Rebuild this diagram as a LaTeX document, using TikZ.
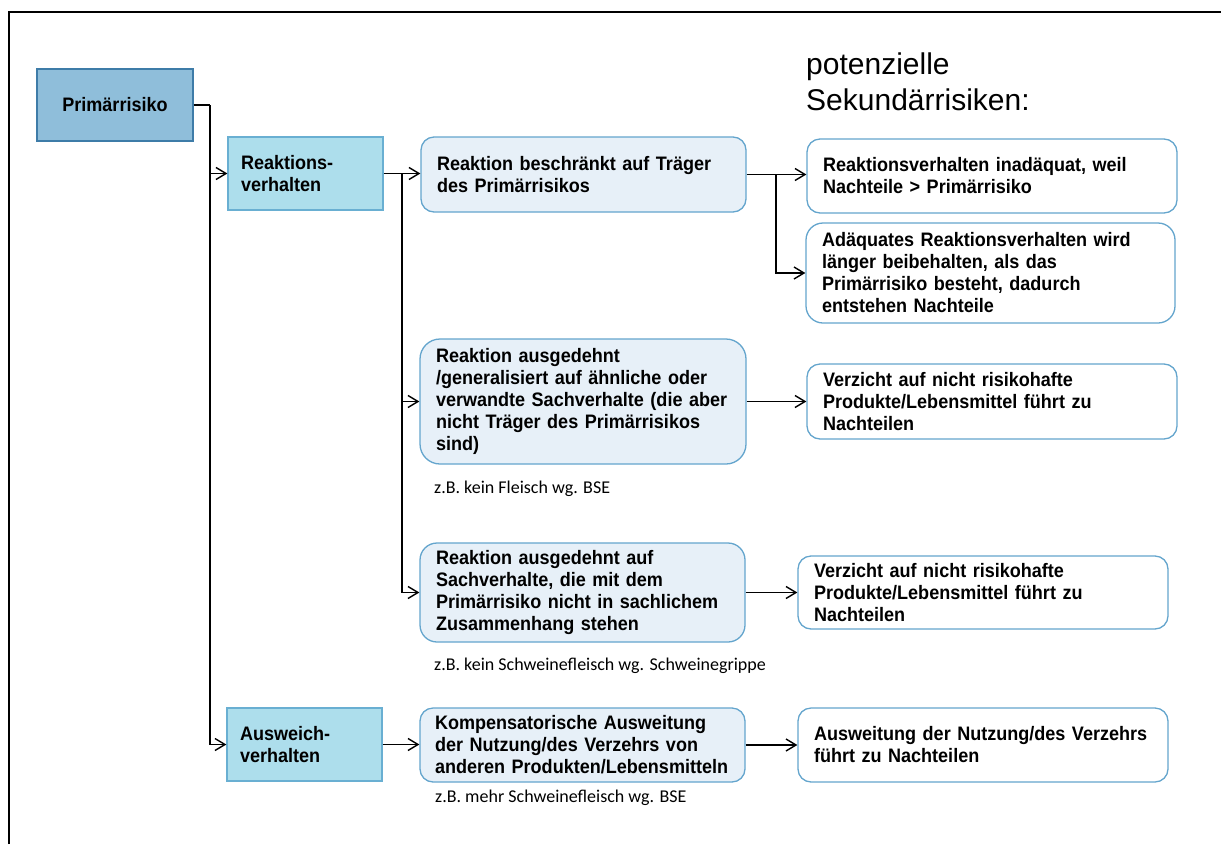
\documentclass[tikz,border=0pt]{standalone}
\usepackage{fontspec}
\setmainfont{Liberation Sans}
\newfontfamily\boxfont[FakeStretch=0.925]{Liberation Sans}
\newfontfamily\notefont{Carlito}
\usetikzlibrary{arrows.meta}
\newcommand\nohyphens{\hyphenpenalty=10000\relax\exhyphenpenalty=10000\relax}

\definecolor{primfill}{RGB}{143,190,218}
\definecolor{primline}{RGB}{62,124,168}
\definecolor{behfill}{RGB}{173,222,236}
\definecolor{behline}{RGB}{105,175,210}
\definecolor{reactfill}{RGB}{231,240,248}
\definecolor{reactline}{RGB}{100,165,205}

\tikzset{
  boxtext/.style={font=\boxfont\bfseries\fontsize{19.5}{22}\selectfont\nohyphens,
    align=left, inner ysep=0pt, text=black},
  primbox/.style={boxtext, draw=primline, fill=primfill, line width=1.3pt, align=center},
  behbox/.style={boxtext, draw=behline, fill=behfill, line width=1.3pt},
  reactbox/.style={boxtext, draw=reactline, fill=reactfill, line width=1.3pt},
  riskbox/.style={boxtext, draw=reactline, fill=white, line width=1.3pt},
  conn/.style={draw=black, line width=1.4pt},
  arr/.style={conn, -{Straight Barb[length=10pt,width=12pt]}},
  note/.style={font=\notefont\fontsize{18}{21}\selectfont, anchor=base west, inner sep=0pt},
  heading/.style={font=\fontsize{30}{36}\selectfont, anchor=base west, inner sep=0pt}
}

\begin{document}
\begin{tikzpicture}[x=1pt, y=-1pt]
\useasboundingbox (0,0) rectangle (1221,844);

% frame
\coordinate (fbl) at (9,844);
\coordinate (ftl) at (9,12);
\coordinate (ftr) at (1221,12);
\draw[line width=2pt] (fbl) -- (ftl) -- (ftr);

% heading
\node[heading] (head1) at (806,74) {potenzielle};
\node[heading] (head2) at (806,110) {Sekundärrisiken:};

% left column
\node[primbox, text width=140pt, inner xsep=8pt, minimum height=72pt] (prim) at (115,105) {Primärrisiko};
\node[behbox, text width=129pt, inner xsep=13pt, minimum height=73pt] (reak) at (305.5,173.5) {Reaktions-\\verhalten};
\node[behbox, text width=129pt, inner xsep=13pt, minimum height=73pt] (ausw) at (304.5,744.5) {Ausweich-\\verhalten};

% middle column
\node[reactbox, rounded corners=13pt, text width=293pt, inner xsep=16pt, minimum height=75pt] (b2) at (583.5,174.5)
  {Reaktion beschränkt auf Träger\\des Primärrisikos};
\node[reactbox, rounded corners=20pt, text width=294pt, inner xsep=16pt, minimum height=125pt] (b3) at (583,401.5)
  {Reaktion ausgedehnt\\/generalisiert auf ähnliche oder\\verwandte Sachverhalte (die aber\\nicht Träger des Primärrisikos\\sind)};
\node[reactbox, rounded corners=17pt, text width=293pt, inner xsep=16pt, minimum height=99pt] (b4) at (582.5,592.5)
  {Reaktion ausgedehnt auf\\Sachverhalte, die mit dem\\Primärrisiko nicht in sachlichem\\Zusammenhang stehen};
\node[reactbox, rounded corners=13pt, text width=295pt, inner xsep=15pt, minimum height=74pt] (b5) at (582.5,745)
  {Kompensatorische Ausweitung\\der Nutzung/des Verzehrs von\\anderen Produkten/Lebensmitteln};

% examples
\node[note] (n1) at (434,493) {z.B. kein Fleisch wg. BSE};
\node[note] (n2) at (434,670) {z.B. kein Schweinefleisch wg. Schweinegrippe};
\node[note] (n3) at (435,802) {z.B. mehr Schweinefleisch wg. BSE};

% right column
\node[riskbox, rounded corners=13pt, text width=338pt, inner xsep=16pt, minimum height=74pt] (r1) at (992,176)
  {Reaktionsverhalten inadäquat, weil\\Nachteile > Primärrisiko};
\node[riskbox, rounded corners=17pt, text width=337pt, inner xsep=16pt, minimum height=100pt] (r2) at (990.5,273)
  {Adäquates Reaktionsverhalten wird\\länger beibehalten, als das\\Primärrisiko besteht, dadurch\\entstehen Nachteile};
\node[riskbox, rounded corners=13pt, text width=338pt, inner xsep=16pt, minimum height=75pt] (r3) at (992,401.5)
  {Verzicht auf nicht risikohafte\\Produkte/Lebensmittel führt zu\\Nachteilen};
\node[riskbox, rounded corners=13pt, text width=338pt, inner xsep=16pt, minimum height=73pt] (r4) at (983,592.5)
  {Verzicht auf nicht risikohafte\\Produkte/Lebensmittel führt zu\\Nachteilen};
\node[riskbox, rounded corners=13pt, text width=338pt, inner xsep=16pt, minimum height=74pt] (r5) at (983,745)
  {Ausweitung der Nutzung/des Verzehrs\\führt zu Nachteilen};

% connectors
\coordinate (j1) at (210,105);
\draw[conn] (prim.east) -- (j1);
\draw[arr] (j1) |- (reak.west);
\draw[arr] (j1) |- (ausw.west);

\coordinate (j2) at (402,173.5);
\draw[conn] (reak.east) -- (j2);
\draw[arr] (j2) -- (b2.west |- j2);
\draw[arr] (j2) |- (b3.west);
\draw[arr] (j2) |- (b4.west);

\coordinate (j3) at (776,174.5);
\draw[conn] (b2.east) -- (j3);
\draw[arr] (j3) -- (r1.west |- j3);
\draw[arr] (j3) |- (r2.west);

\draw[arr] (b3.east) -- (r3.west);
\draw[arr] (b4.east) -- (r4.west);
\draw[arr] (ausw.east) -- (b5.west |- ausw.east);
\draw[arr] (b5.east) -- (r5.west |- b5.east);
\end{tikzpicture}
\end{document}
